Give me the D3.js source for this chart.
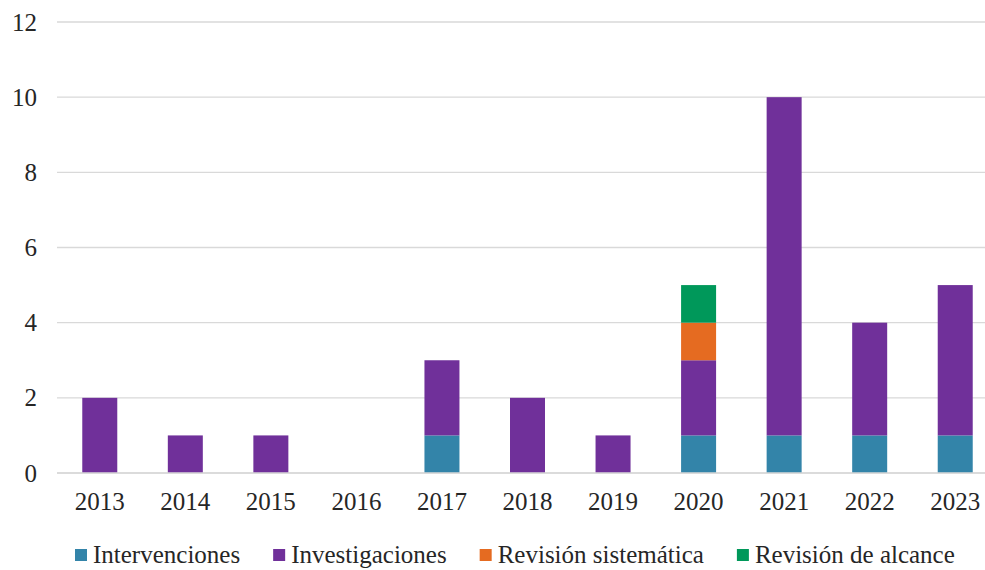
<!DOCTYPE html>
<html>
<head>
<meta charset="utf-8">
<script src="https://cdn.jsdelivr.net/npm/d3@7"></script>
<style>
  html, body { margin: 0; padding: 0; background: #fff; }
  svg { display: block; }
  text { font-family: "Liberation Serif", "Times New Roman", serif; fill: #262626; }
</style>
</head>
<body>
<svg id="chart" width="985" height="570"></svg>
<script>
// Publications per year, broken down by study type
const years = ["2013","2014","2015","2016","2017","2018","2019","2020","2021","2022","2023"];
const seriesNames = ["Intervenciones","Investigaciones","Revisión sistemática","Revisión de alcance"];
const intervenciones = [0,0,0,0,1,0,0,1,1,1,1];
const investigaciones = [2,1,1,0,2,2,1,2,9,3,4];
const revisionSistematica = [0,0,0,0,0,0,0,1,0,0,0];
const revisionAlcance = [0,0,0,0,0,0,0,1,0,0,0];
const colors = ["#3384a9","#70309a","#e56b21","#00985a"];
const yTicks = [0,2,4,6,8,10,12];

const seriesValues = [intervenciones, investigaciones, revisionSistematica, revisionAlcance];
const rows = years.map((y, i) => {
  const r = { year: y };
  seriesNames.forEach((s, k) => r[s] = seriesValues[k][i]);
  return r;
});

const FONT = '"Liberation Serif", "Times New Roman", serif';
const FS = "25px";

const svg = d3.select("#chart");
const margin = { left: 57, right: -13, top: 22, bottom: 97 };
const W = 985, H = 570;

const x = d3.scaleBand().domain(years)
  .range([margin.left, W - margin.right])
  .paddingInner(0.6).paddingOuter(0.3);
const y = d3.scaleLinear().domain([0, 12]).range([H - margin.bottom, margin.top]);

// horizontal gridlines
svg.append("g").selectAll("line").data(yTicks).join("line")
  .attr("x1", margin.left).attr("x2", W)
  .attr("y1", d => y(d)).attr("y2", d => y(d))
  .attr("stroke", "#d9d9d9").attr("stroke-width", 1.3);

// y axis labels
const yAxis = svg.append("g").attr("transform", `translate(${37},0)`)
  .call(d3.axisLeft(y).tickValues(yTicks).tickSize(0).tickPadding(0));
yAxis.select(".domain").remove();
yAxis.attr("font-family", null).attr("font-size", null);
yAxis.selectAll("text").style("font-size", FS)
  .style("font-family", FONT).attr("fill", "#262626");

// stacked bars
const stack = d3.stack().keys(seriesNames)(rows);
const bw = 35;
svg.append("g").selectAll("g").data(stack).join("g")
  .attr("fill", (d, i) => colors[i])
  .selectAll("rect").data(d => d).join("rect")
  .attr("x", d => x(d.data.year) + x.bandwidth() / 2 - bw / 2)
  .attr("width", bw)
  .attr("y", d => y(d[1]))
  .attr("height", d => y(d[0]) - y(d[1]));

// baseline
svg.append("line")
  .attr("x1", margin.left).attr("x2", W)
  .attr("y1", y(0)).attr("y2", y(0))
  .attr("stroke", "#d9d9d9").attr("stroke-width", 1.3);

// x axis labels
const xAxis = svg.append("g").attr("transform", `translate(0,${y(0) + 19})`)
  .call(d3.axisBottom(x).tickSize(0).tickPadding(0));
xAxis.select(".domain").remove();
xAxis.attr("font-family", null).attr("font-size", null);
xAxis.selectAll("text").style("font-size", FS)
  .style("font-family", FONT).attr("fill", "#262626")
  .attr("dy", "0.71em");

// legend
const legend = svg.append("g").attr("transform", "translate(75,555)");
let lx = 0;
seriesNames.forEach((s, i) => {
  const g = legend.append("g").attr("transform", `translate(${lx},0)`);
  g.append("rect").attr("x", 0).attr("y", -6).attr("width", 12).attr("height", 12).attr("fill", colors[i]);
  const t = g.append("text").attr("x", 18).attr("y", 0).attr("dy", "0.33em")
    .style("font-size", FS).style("font-family", FONT).text(s);
  lx += 18 + t.node().getComputedTextLength() + 33;
});
</script>
</body>
</html>
